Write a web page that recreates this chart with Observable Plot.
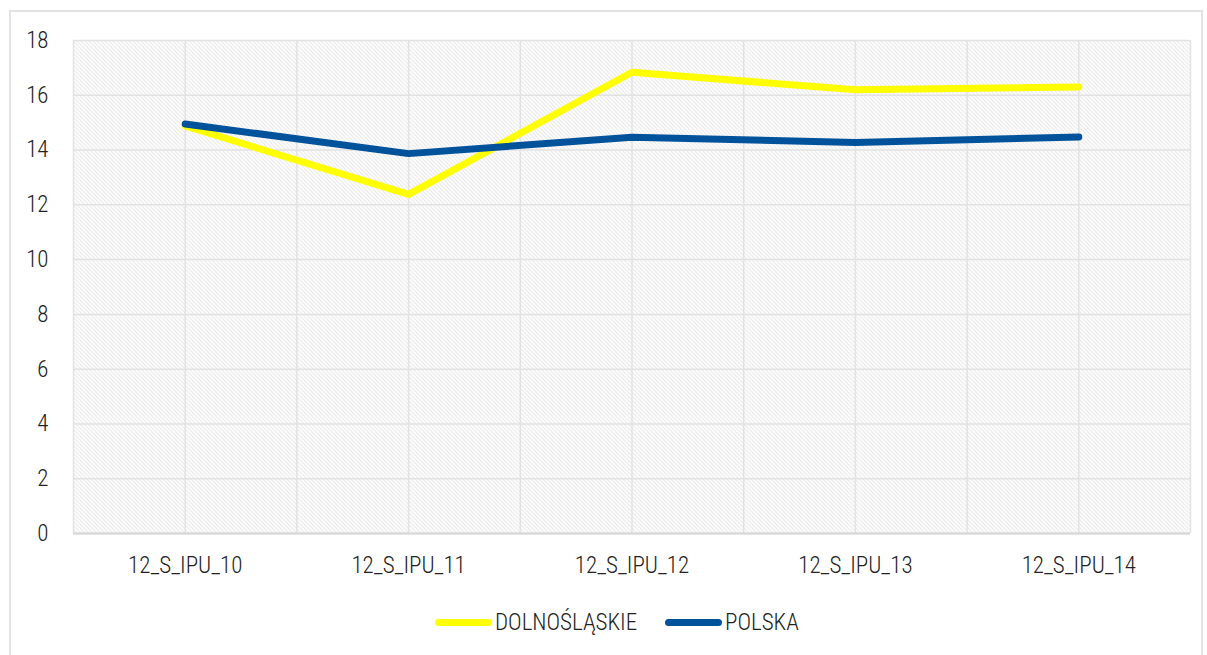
<!DOCTYPE html>
<html><head><meta charset="utf-8">
<script src="https://cdn.jsdelivr.net/npm/d3@7"></script>
<script src="https://cdn.jsdelivr.net/npm/@observablehq/plot@0.6"></script>
<style>
body{margin:0;background:#fff;width:1207px;height:655px;overflow:hidden;position:relative;font-family:"Roboto Condensed",Roboto,sans-serif;font-weight:300;}
#border{position:absolute;left:9px;top:10px;width:1194px;height:660px;border:2px solid #e2e2e2;box-sizing:border-box}
#chart{position:absolute;left:0;top:0}
.item{position:absolute;top:608px;height:28px;display:flex;align-items:center;font-size:23px;color:#222}
.swatch{width:57px;height:7px;border-radius:4px;margin-right:3px}
</style></head><body>
<div id="border"></div>
<div id="chart"></div>
<div class="item" style="left:435px"><span class="swatch" style="background:#FFFF00"></span>DOLNOŚLĄSKIE</div>
<div class="item" style="left:665px"><span class="swatch" style="background:#00529B"></span>POLSKA</div>
<script>
const categories = ["12_S_IPU_10", "12_S_IPU_11", "12_S_IPU_12", "12_S_IPU_13", "12_S_IPU_14"];
const dolnoslaskie = [14.88, 12.38, 16.84, 16.2, 16.3];
const polska = [14.95, 13.87, 14.47, 14.28, 14.48];
const seriesNames = ["DOLNOŚLĄSKIE", "POLSKA"];
const seriesColors = ["#FFFF00", "#00529B"];
const yTicks = [0, 2, 4, 6, 8, 10, 12, 14, 16, 18];

const rows = [];
[dolnoslaskie, polska].forEach((vals, s) => vals.forEach((v, i) => rows.push({i, v, series: seriesNames[s]})));
const idx = categories.map((c, i) => i);
const xGrid = categories.flatMap((c, i) => [i - 0.5, i]).concat([categories.length - 0.5]);

const svg = Plot.plot({
  width: 1207, height: 595,
  marginLeft: 73, marginRight: 17, marginTop: 40, marginBottom: 62,
  style: {fontFamily: '"Roboto Condensed",Roboto,sans-serif', fontWeight: 300, fontSize: "23px", color: "#222", background: "transparent"},
  x: {domain: [-0.5, categories.length - 0.5], label: null},
  y: {domain: [0, 18], label: null},
  color: {domain: seriesNames, range: seriesColors},
  marks: [
    Plot.frame({fill: "url(#hatch)", stroke: "none"}),
    Plot.gridY(yTicks, {stroke: "#e2e2e2", strokeOpacity: 1, strokeWidth: 1.5}),
    Plot.ruleX(xGrid, {stroke: "#e2e2e2", strokeWidth: 1.5}),
    Plot.ruleY([0], {stroke: "#d6d6d6", strokeWidth: 2}),
    Plot.line(rows, {x: "i", y: "v", z: "series", stroke: "series", strokeWidth: 7, strokeLinecap: "round", strokeLinejoin: "round"}),
    Plot.axisX(idx, {tickFormat: i => categories[i], tickSize: 0, tickPadding: 23, fontSize: 23, label: null}),
    Plot.axisY(yTicks, {tickSize: 0, tickPadding: 25, fontSize: 23, label: null})
  ]
});
const defs = document.createElementNS("http://www.w3.org/2000/svg", "defs");
defs.innerHTML = '<pattern id="hatch" width="4" height="4" patternUnits="userSpaceOnUse"><rect width="4" height="4" fill="#fff"/><path d="M-1,-1L5,5M-1,3L1,5M3,-1L5,1" stroke="#d6d6d6" stroke-width="0.9"/></pattern>';
svg.insertBefore(defs, svg.firstChild);
document.getElementById("chart").appendChild(svg);
</script>
</body></html>
